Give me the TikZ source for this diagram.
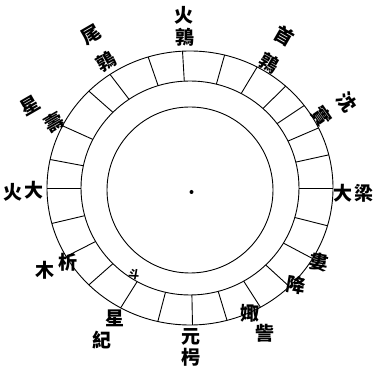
\documentclass[tikz,border=0pt]{standalone}
\usepackage{fontspec}
\newfontfamily\cjk{Noto Sans CJK TC}
\begin{document}
\begin{tikzpicture}[x=1pt,y=-1pt,
  ringline/.style={line width=0.9pt,black},
  lab/.style={font=\cjk\bfseries\fontsize{19}{19}\selectfont,inner sep=0pt},
  small/.style={font=\cjk\bfseries\fontsize{11}{11}\selectfont,inner sep=0pt}]
\useasboundingbox (0,0) rectangle (376,371);
% rings
\draw[ringline] (190,188) ellipse [x radius=143,y radius=137];
\draw[ringline] (190,188) ellipse [x radius=109,y radius=107];
\draw[ringline] (190,190) circle [radius=83];
\fill (191.5,192) circle [radius=2];
% radial divisions
\foreach \a in {107,93,76,62,48,37,26,14,0,-16,-31,-46,-60.5,-75,-89,-103,-119,-135,-150,-165,180,168,153,135,124}{
  \draw[ringline] ({190+109*cos(\a)},{188-107*sin(\a)}) -- ({190+143*cos(\a)},{188-137*sin(\a)});
}
% labels (inner char, outer char)
\node[lab] (l1a) at (185,37) {鶉};
\node[lab] (l1b) at (184,15) {火};
\node[lab,rotate=-30] (l2a) at (269,63) {鶉};
\node[lab,rotate=-30] (l2b) at (284,36) {首};
\node[lab,rotate=-55] (l3a) at (322,116) {實};
\node[lab,rotate=-55] (l3b) at (347,102) {沈};
\node[lab] (l4a) at (343,193) {大};
\node[lab] (l4b) at (364,193) {梁};
\node[lab,rotate=-10] (l5a) at (296,285) {降};
\node[lab,rotate=-10] (l5b) at (319,262) {婁};
\node[lab] (l6a) at (250,313) {娵};
\node[lab] (l6b) at (265,333) {訾};
\node[lab] (l7a) at (191,337) {元};
\node[lab] (l7b) at (191,357) {枵};
\node[lab] (l8a) at (115,318) {星};
\node[lab] (l8b) at (102,340) {紀};
\node[lab] (l9a) at (68,262) {析};
\node[lab] (l9b) at (45,270) {木};
\node[lab] (l10a) at (34,190) {大};
\node[lab] (l10b) at (13,192) {火};
\node[lab,rotate=30] (l11a) at (54,122) {壽};
\node[lab,rotate=30] (l11b) at (30,106) {星};
\node[lab,rotate=30] (l12a) at (106,62) {鶉};
\node[lab,rotate=30] (l12b) at (91,35) {尾};
\node[small,rotate=-10] (dou) at (134,274) {斗};
\end{tikzpicture}
\end{document}
